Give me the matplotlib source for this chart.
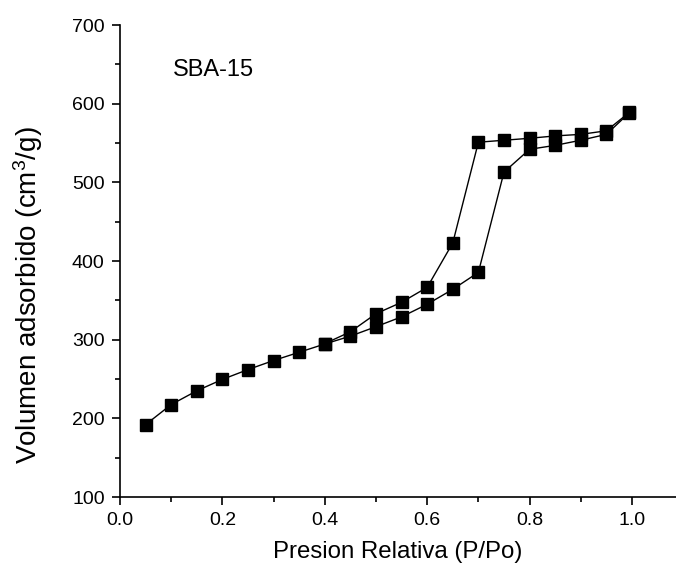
import matplotlib
matplotlib.use("Agg")
import matplotlib.pyplot as plt
from matplotlib.ticker import MultipleLocator

plt.rcParams['font.family'] = ['Liberation Sans', 'DejaVu Sans']
plt.rcParams['mathtext.fontset'] = 'custom'
plt.rcParams['mathtext.rm'] = 'Liberation Sans'
plt.rcParams['mathtext.it'] = 'Liberation Sans'
plt.rcParams['mathtext.default'] = 'regular'

# Adsorption branch
p_ads = [0.05, 0.10, 0.15, 0.20, 0.25, 0.30, 0.35, 0.40, 0.45, 0.50,
         0.55, 0.60, 0.65, 0.70, 0.75, 0.80, 0.85, 0.90, 0.95, 0.995]
v_ads = [192, 217.5, 235, 249.5, 262, 273.5, 284, 294.5, 304.5, 316.5,
         329, 345, 364, 385.5, 513, 542, 547, 553.5, 561, 588.5]

# Desorption branch
p_des = [0.995, 0.95, 0.90, 0.85, 0.80, 0.75, 0.70, 0.65, 0.60, 0.55,
         0.50, 0.45, 0.40]
v_des = [589, 565.5, 561, 559, 556, 553.5, 551, 423, 366.5, 347.5,
         333, 310, 295]

fig = plt.figure(figsize=(6.76, 5.69), dpi=100)
ax = fig.add_axes([120/676, 1-497/569, 1-120/676, (497-25)/569])

ax.plot(p_ads, v_ads, color='black', lw=1, marker='s', ms=9, mfc='black', mec='black')
ax.plot(p_des, v_des, color='black', lw=1, marker='s', ms=9, mfc='black', mec='black')

ax.set_xlim(0, 1.086)
ax.set_ylim(100, 700)
ax.xaxis.set_major_locator(MultipleLocator(0.2))
ax.xaxis.set_minor_locator(MultipleLocator(0.1))
ax.yaxis.set_major_locator(MultipleLocator(100))
ax.yaxis.set_minor_locator(MultipleLocator(50))
ax.set_xticks([0.0, 0.2, 0.4, 0.6, 0.8, 1.0])
ax.set_xticklabels(['0.0', '0.2', '0.4', '0.6', '0.8', '1.0'])

for s in ['top', 'right']:
    ax.spines[s].set_visible(False)
for s in ['left', 'bottom']:
    ax.spines[s].set_linewidth(1.2)

ax.tick_params(which='major', direction='out', length=6, width=1.2, labelsize=14, pad=5)
ax.tick_params(which='minor', direction='out', length=3.5, width=1.2)

ax.set_xlabel('Presion Relativa (P/Po)', fontsize=17.3, va='center')
ax.xaxis.set_label_coords(0.5, -0.1165)
ax.set_ylabel('Volumen adsorbido (cm$^3$/g)', fontsize=20, va='center')
ax.yaxis.set_label_coords(-0.165, 0.428)

ax.text(0.104, 643, 'SBA-15', fontsize=17, ha='left', va='center')

fig.savefig('out.png', dpi=100)
